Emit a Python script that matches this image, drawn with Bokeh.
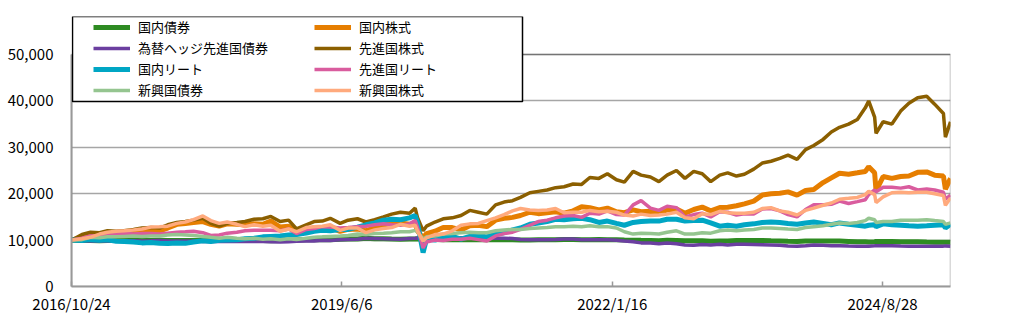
import pandas as pd
from bokeh.plotting import figure
from bokeh.models import (Range1d, FixedTicker, NumeralTickFormatter, Legend,
                          LegendItem, BoxAnnotation)
from bokeh.embed import file_html
from bokeh.resources import INLINE

dates = [
    "2016-10-24", "2016-11-30", "2016-12-30",
    "2017-01-31", "2017-02-28", "2017-03-31", "2017-04-28", "2017-05-31", "2017-06-30",
    "2017-07-31", "2017-08-31", "2017-09-29", "2017-10-31", "2017-11-30", "2017-12-29",
    "2018-01-31", "2018-02-28", "2018-03-30", "2018-04-27", "2018-05-31", "2018-06-29",
    "2018-07-31", "2018-08-31", "2018-09-28", "2018-10-31", "2018-11-30", "2018-12-28",
    "2019-01-31", "2019-02-28", "2019-03-29", "2019-04-26", "2019-05-31", "2019-06-28",
    "2019-07-31", "2019-08-30", "2019-09-30", "2019-10-31", "2019-11-29", "2019-12-30",
    "2020-01-31", "2020-02-20", "2020-02-28", "2020-03-19", "2020-03-31", "2020-04-30",
    "2020-05-29", "2020-06-30", "2020-07-31", "2020-08-31", "2020-09-30", "2020-10-30",
    "2020-11-30", "2020-12-30",
    "2021-01-29", "2021-02-26", "2021-03-31", "2021-04-30", "2021-05-31", "2021-06-30",
    "2021-07-30", "2021-08-31", "2021-09-30", "2021-10-29", "2021-11-30", "2021-12-30",
    "2022-01-31", "2022-02-28", "2022-03-31", "2022-04-28", "2022-05-31", "2022-06-30",
    "2022-07-29", "2022-08-31", "2022-09-30", "2022-10-31", "2022-11-30", "2022-12-30",
    "2023-01-31", "2023-02-28", "2023-03-31", "2023-04-28", "2023-05-31", "2023-06-30",
    "2023-07-31", "2023-08-31", "2023-09-29", "2023-10-31", "2023-11-30", "2023-12-29",
    "2024-01-31", "2024-02-29", "2024-03-29", "2024-04-30", "2024-05-31", "2024-06-28",
    "2024-07-10", "2024-07-31", "2024-08-05", "2024-08-30", "2024-09-30", "2024-10-31",
    "2024-11-29", "2024-12-30",
    "2025-01-31", "2025-02-28", "2025-03-31", "2025-04-07", "2025-04-25",
]

domestic_bonds = [
    10000, 9930, 9900,
    9880, 9910, 9900, 9920, 9910, 9890, 9900, 9950, 9910, 9910, 9930, 9940,
    9930, 9970, 9990, 9990, 10000, 10000, 9960, 9900, 9880, 9900, 9950, 10020,
    10060, 10080, 10130, 10100, 10180, 10240, 10260, 10420, 10310, 10270, 10220, 10200,
    10240, 10260, 10280, 10050, 10150, 10150, 10100, 10080, 10120, 10060, 10090, 10090, 10100, 10110,
    10070, 10000, 10040, 10060, 10070, 10090, 10150, 10140, 10100, 10090, 10110, 10090,
    10050, 10000, 9980, 9950, 9930, 9880, 9950, 9920, 9870, 9850, 9880, 9750,
    9800, 9820, 9920, 9910, 9900, 9930, 9850, 9800, 9730, 9680, 9780, 9830,
    9800, 9800, 9790, 9720, 9620, 9640, 9600, 9650, 9720, 9690, 9700, 9670, 9650, 9660,
    9600, 9550, 9520, 9560, 9540,
]
domestic_equity = [
    10000, 10600, 11200,
    11200, 11300, 11200, 11300, 11600, 12000, 12100, 12000, 12600, 13400, 13600, 13800,
    14000, 13400, 13000, 13500, 13400, 13300, 13500, 13400, 14100, 12800, 13000, 11700,
    12300, 12600, 12600, 12700, 11900, 12300, 12400, 12000, 12700, 13300, 13500, 13700,
    13400, 13500, 12000, 10500, 11400, 11900, 12700, 12700, 12200, 13100, 13200, 12900, 14300, 14700,
    14900, 15300, 16000, 15700, 15900, 16100, 15800, 16300, 17200, 17000, 16500, 16900,
    16100, 15900, 16500, 16100, 16200, 15900, 16500, 16700, 15800, 16600, 17100, 16300,
    17000, 17100, 17400, 17800, 18400, 19700, 20000, 20100, 20400, 19700, 20700, 20900,
    22400, 23400, 24400, 24200, 24500, 24800, 25800, 24500, 20600, 23700, 23300, 23700, 23800, 24600,
    24700, 24000, 23800, 21000, 23300,
]
hedged_dev_bonds = [
    10000, 9850, 9820,
    9800, 9830, 9800, 9850, 9870, 9830, 9850, 9900, 9820, 9800, 9810, 9800,
    9720, 9700, 9730, 9680, 9720, 9700, 9680, 9680, 9620, 9600, 9620, 9750,
    9800, 9820, 9950, 9920, 10050, 10150, 10200, 10400, 10350, 10300, 10250, 10200,
    10350, 10400, 10450, 10200, 10350, 10400, 10400, 10420, 10500, 10420, 10430, 10380, 10400, 10420,
    10350, 10150, 10100, 10080, 10100, 10150, 10250, 10220, 10100, 10050, 10080, 10050,
    9950, 9800, 9650, 9400, 9350, 9200, 9350, 9200, 8950, 8900, 9050, 8950,
    9100, 8950, 9100, 9100, 9050, 9000, 8950, 8880, 8720, 8650, 8800, 8950,
    8880, 8800, 8800, 8720, 8680, 8680, 8700, 8770, 8800, 8800, 8800, 8720, 8680, 8650,
    8650, 8700, 8700, 8750, 8700,
]
developed_equity = [
    10000, 11200, 11700,
    11600, 12000, 11900, 12000, 12300, 12600, 12700, 12600, 13300, 13800, 14000, 14300,
    14700, 13600, 13000, 13600, 13800, 14000, 14500, 14600, 15100, 14000, 14300, 12400,
    13300, 14000, 14100, 14700, 13600, 14300, 14600, 13900, 14400, 15000, 15600, 16000,
    15800, 16900, 14900, 12000, 13000, 13900, 14600, 14800, 15300, 16400, 16000, 15600, 17600, 18200,
    18500, 19200, 20200, 20500, 20800, 21300, 21500, 22100, 22000, 23500, 23300, 24300,
    23000, 22500, 24800, 24000, 23600, 22600, 24000, 25000, 23300, 24800, 24300, 22600,
    24000, 24500, 23800, 24200, 25300, 26600, 27000, 27600, 28300, 27400, 29500, 30400,
    31700, 33300, 34300, 35000, 36000, 38500, 40000, 36500, 33000, 35500, 35000, 37800, 39500, 40700,
    41000, 39300, 37300, 32200, 35500,
]
domestic_reit = [
    10000, 9900, 10100,
    9950, 10050, 9750, 9700, 9600, 9400, 9500, 9300, 9250, 9350, 9300, 9600,
    9850, 9700, 9950, 10000, 10050, 10300, 10400, 10700, 10800, 10900, 11100, 11200,
    11500, 11900, 12100, 12000, 12300, 12300, 12800, 13300, 13700, 14300, 14500, 14400,
    14800, 15300, 13800, 7300, 10200, 10000, 10500, 10800, 10200, 10800, 11000, 10700, 11300, 11600,
    12200, 12600, 13400, 13700, 14000, 14500, 14400, 14600, 14700, 14400, 13800, 14100,
    13600, 13200, 13800, 14000, 14100, 14100, 14500, 14500, 14100, 14200, 14300, 13700,
    13000, 13200, 13000, 13300, 13500, 13800, 13900, 13800, 13600, 13400, 13700, 13900,
    13600, 13300, 13700, 13400, 13200, 13000, 13200, 13300, 12900, 13500, 13300, 13200, 13100, 13000,
    13100, 13200, 13300, 12600, 13400,
]
developed_reit = [
    10000, 10400, 10900,
    11000, 11500, 11300, 11500, 11300, 11400, 11400, 11300, 11500, 11700, 11800, 11900,
    11600, 11000, 11100, 11500, 11700, 12000, 12100, 12100, 12100, 12000, 12400, 11400,
    12300, 12500, 12900, 12800, 12600, 12700, 12900, 13000, 13300, 13500, 13300, 13200,
    13500, 14200, 12800, 8300, 9600, 10000, 9900, 10200, 10200, 10400, 10100, 9800, 10900, 11400,
    11700, 12300, 13200, 14000, 14300, 14800, 15200, 15300, 14900, 15800, 15600, 16300,
    15500, 15400, 17600, 18500, 16900, 16400, 17300, 17000, 15000, 15500, 15800, 15000,
    16100, 16000, 15400, 15700, 15600, 16700, 16800, 16300, 15500, 15000, 16600, 17600,
    17600, 17700, 18400, 17900, 18300, 18700, 19800, 20800, 20400, 21400, 21400, 21200, 21500, 20800,
    21000, 20800, 20300, 18800, 19700,
]
em_bonds = [
    10000, 10100, 10600,
    10500, 10700, 10700, 10800, 10900, 10800, 10900, 10900, 11100, 11200, 11100, 11000,
    10800, 10600, 10400, 10600, 10400, 10300, 10400, 10200, 10300, 10100, 10300, 10100,
    10400, 10600, 10700, 10800, 10900, 11000, 11300, 11200, 11400, 11500, 11600, 11800,
    11800, 12100, 11800, 10200, 10700, 10900, 11300, 11400, 11600, 11700, 11600, 11600, 12000, 12200,
    12300, 12300, 12500, 12600, 12700, 12900, 12900, 13000, 12900, 13100, 12900, 12900,
    12600, 11800, 11300, 11500, 11400, 11300, 11700, 12000, 11300, 11300, 11600, 11500,
    12000, 12200, 12000, 12200, 12300, 12600, 12600, 12500, 12400, 12300, 12700, 12900,
    13100, 13400, 13700, 13600, 13800, 14200, 14700, 14400, 13800, 14000, 14000, 14300, 14300, 14300,
    14400, 14200, 14000, 13400, 13700,
]
em_equity = [
    10000, 10300, 10600,
    11300, 11700, 11900, 12000, 12200, 12400, 12800, 12900, 13000, 13600, 13900, 14400,
    15200, 14200, 13600, 13900, 13400, 12900, 13300, 13000, 13200, 11900, 12400, 11800,
    12700, 12900, 13000, 13300, 12100, 12600, 12600, 11600, 12200, 12500, 12700, 13400,
    13000, 13200, 12000, 9800, 10500, 11200, 11300, 12000, 13200, 13500, 13600, 14200, 14800, 15500,
    16300, 16800, 16500, 16400, 16500, 16800, 15900, 16000, 16000, 16400, 16100, 16200,
    16000, 15400, 15200, 15600, 15300, 15400, 15600, 16000, 14800, 14600, 15700, 15500,
    16200, 15900, 15800, 15800, 16000, 16800, 17000, 16300, 16000, 15400, 16400, 16900,
    17500, 18000, 18800, 19000, 19200, 19800, 20500, 19800, 18100, 19300, 20200, 20300, 20200, 20300,
    20300, 20000, 19600, 17500, 19100,
]

series_names = ["国内債券", "国内株式", "為替ヘッジ先進国債券", "先進国株式",
                "国内リート", "先進国リート", "新興国債券", "新興国株式"]
series_values = [domestic_bonds, domestic_equity, hedged_dev_bonds, developed_equity,
                 domestic_reit, developed_reit, em_bonds, em_equity]
series_colors = ["#2E8B22", "#E67E00", "#6B3FA0", "#8B5F00",
                 "#00A6C4", "#D95C9E", "#95C590", "#FFAA7D"]
series_widths = [5, 5, 3.5, 3.5, 5, 3.5, 3.5, 3.5]

tick_dates = ["2016-10-24", "2019-06-06", "2022-01-16", "2024-08-28"]
tick_labels = ["2016/10/24", "2019/6/6", "2022/1/16", "2024/8/28"]
y_ticks = [0, 10000, 20000, 30000, 40000, 50000]
y_max = 50000

FONT = "Noto Sans CJK JP"

x = pd.to_datetime(dates)
x_start = x[0].to_pydatetime()
x_end = x[-1].to_pydatetime()

# frame spans canvas rows 16..286; the value axis top (50,000) sits at row 54
FRAME_TOP, AXIS_TOP, FRAME_BOTTOM = 16, 54, 286
y_top = y_max * (FRAME_BOTTOM - FRAME_TOP) / (FRAME_BOTTOM - AXIS_TOP)

p = figure(width=1009, height=326, x_axis_type="datetime",
           output_backend="svg", toolbar_location=None,
           x_range=Range1d(x_start, x_end),
           y_range=Range1d(0, y_top),
           min_border_left=71, min_border_right=59,
           min_border_top=FRAME_TOP, min_border_bottom=326 - FRAME_BOTTOM)
p.background_fill_color = "white"
p.border_fill_color = "white"
p.outline_line_color = None

# plot-area border (black top and right; left/bottom covered by grey axes)
border = BoxAnnotation(left=x_start, right=x_end, bottom=0, top=y_max,
                       fill_alpha=0, line_color="black", line_width=1.5,
                       level="underlay")
p.add_layout(border)

renderers = {}
for name, vals, col, w in zip(series_names, series_values, series_colors, series_widths):
    r = p.line(x, vals, line_color=col, line_width=w)
    renderers[name] = r

# axes
tick_ms = [int(pd.Timestamp(d).value // 10**6) for d in tick_dates]
p.xaxis.ticker = FixedTicker(ticks=tick_ms)
p.xaxis.major_label_overrides = {t: lab for t, lab in zip(tick_ms, tick_labels)}
p.xaxis.major_tick_in = 5
p.xaxis.major_tick_out = 0
p.xaxis.major_tick_line_color = "#999999"
p.xaxis.major_tick_line_width = 1.5
p.xaxis.minor_tick_line_color = None
p.xaxis.axis_line_color = "#999999"
p.xaxis.axis_line_width = 2
p.xaxis.major_label_standoff = 6

p.yaxis.ticker = FixedTicker(ticks=y_ticks)
p.yaxis.formatter = NumeralTickFormatter(format="0,0")
p.yaxis.bounds = (0, y_max)
p.yaxis.major_tick_in = 0
p.yaxis.major_tick_out = 0
p.yaxis.minor_tick_line_color = None
p.yaxis.axis_line_color = "#999999"
p.yaxis.axis_line_width = 2
p.yaxis.major_label_standoff = 18

for ax in (p.xaxis[0], p.yaxis[0]):
    ax.major_label_text_font = FONT
    ax.major_label_text_font_size = "15px"
    ax.major_label_text_color = "black"

p.xgrid.visible = False
p.ygrid.grid_line_color = "#A6A6A6"
p.ygrid.grid_line_width = 1.5

# legend frame
box = BoxAnnotation(left=1, right=451, top=270, bottom=185,
                    left_units="screen", right_units="screen",
                    top_units="screen", bottom_units="screen",
                    fill_color="white", fill_alpha=1.0,
                    line_color="black", line_width=1.5, line_alpha=1.0)
p.add_layout(box)

order = ["国内債券", "為替ヘッジ先進国債券", "国内リート", "新興国債券",
         "国内株式", "先進国株式", "先進国リート", "新興国株式"]
legend = Legend(items=[LegendItem(label=n, renderers=[renderers[n]]) for n in order],
                location=(22, 187), orientation="vertical", ncols=2,
                glyph_width=37, glyph_height=16, label_height=16, label_width=174,
                label_standoff=8, spacing=2, padding=0, margin=0,
                border_line_color=None, background_fill_alpha=0,
                label_text_font=FONT, label_text_font_size="13px",
                label_text_color="black")
p.add_layout(legend, "center")

open("out.html", "w").write(file_html(p, INLINE))
